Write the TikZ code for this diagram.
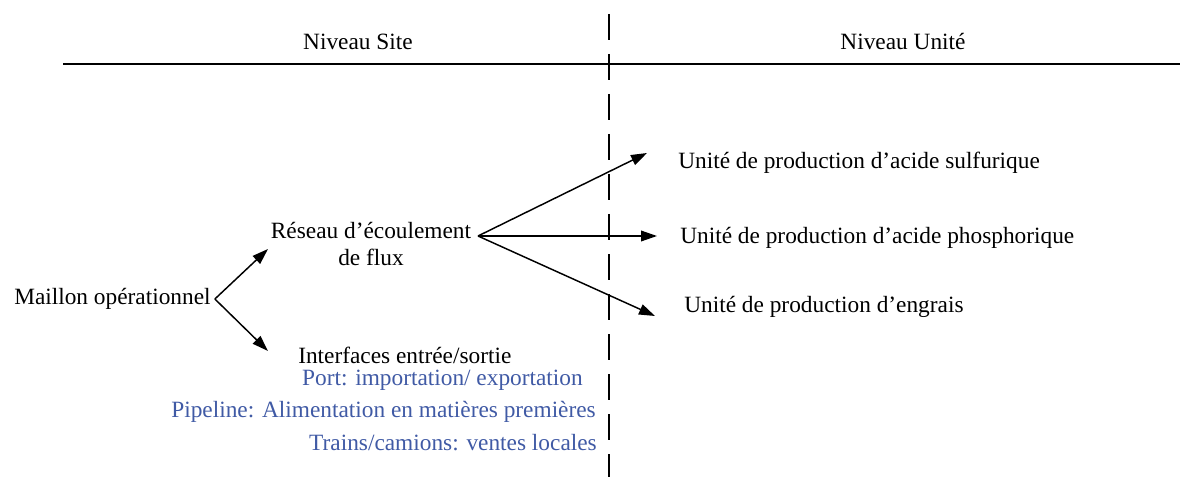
\documentclass[tikz,border=0pt]{standalone}
\usepackage{fontspec}
\setmainfont{Liberation Serif}
\usepackage{tikz}
\usetikzlibrary{positioning,arrows.meta}
\definecolor{portblue}{RGB}{64,90,165}

\begin{document}
\begin{tikzpicture}[x=0.75pt,y=-0.75pt,font=\fontsize{17.5}{20}\selectfont,
    lbl/.style={inner sep=0pt,anchor=west},
    flow/.style={line width=1.1pt,-{Triangle[length=12pt,width=8pt]}},
    iface/.style={inner sep=0pt,anchor=east,text=portblue}]
  \useasboundingbox (0,0) rectangle (1180,477);
  % level header and separator
  \draw[line width=1.1pt] (63,64) -- (1180,64);
  \draw[line width=1.1pt,dash pattern=on 19.5pt off 10.5pt] (609,14) -- (609,477);
  \node (site) at (358,42) {Niveau Site};
  \node (unite) at (903,42) {Niveau Unité};
  % left part: operational link
  \node[lbl,inner xsep=3pt] (maillon) at (10,299) {Maillon opérationnel};
  \node[inner sep=0pt,align=center] (reseau) at (371,244) {Réseau d’écoulement\\de flux};
  \node[lbl] (interf) at (298,355) {Interfaces entrée/sortie};
  \coordinate (tipres) at (268,249);
  \coordinate (tipint) at (268,351);
  \draw[flow] (maillon.east) -- (tipres);
  \draw[flow] (maillon.east) -- (tipint);
  \node[iface] (port) at (583,380) {Port: importation/ exportation};
  \node[iface] (pipe) at (596,412) {Pipeline: Alimentation en matières premières};
  \node[iface] (train) at (597,443) {Trains/camions: ventes locales};
  % right part: production units
  \coordinate (fork) at (478,236);
  \foreach \nm/\tx/\ty/\px/\py/\txt in
    {sulf/678/163/647/153/{Unité de production d’acide sulfurique},
     phos/680/238/657/236/{Unité de production d’acide phosphorique},
     engr/684/307/655/316/{Unité de production d’engrais}} {
    \node[lbl] (\nm) at (\tx,\ty) {\txt};
    \coordinate (tip\nm) at (\px,\py);
    \draw[flow] (fork) -- (tip\nm);
  }
\end{tikzpicture}
\end{document}
